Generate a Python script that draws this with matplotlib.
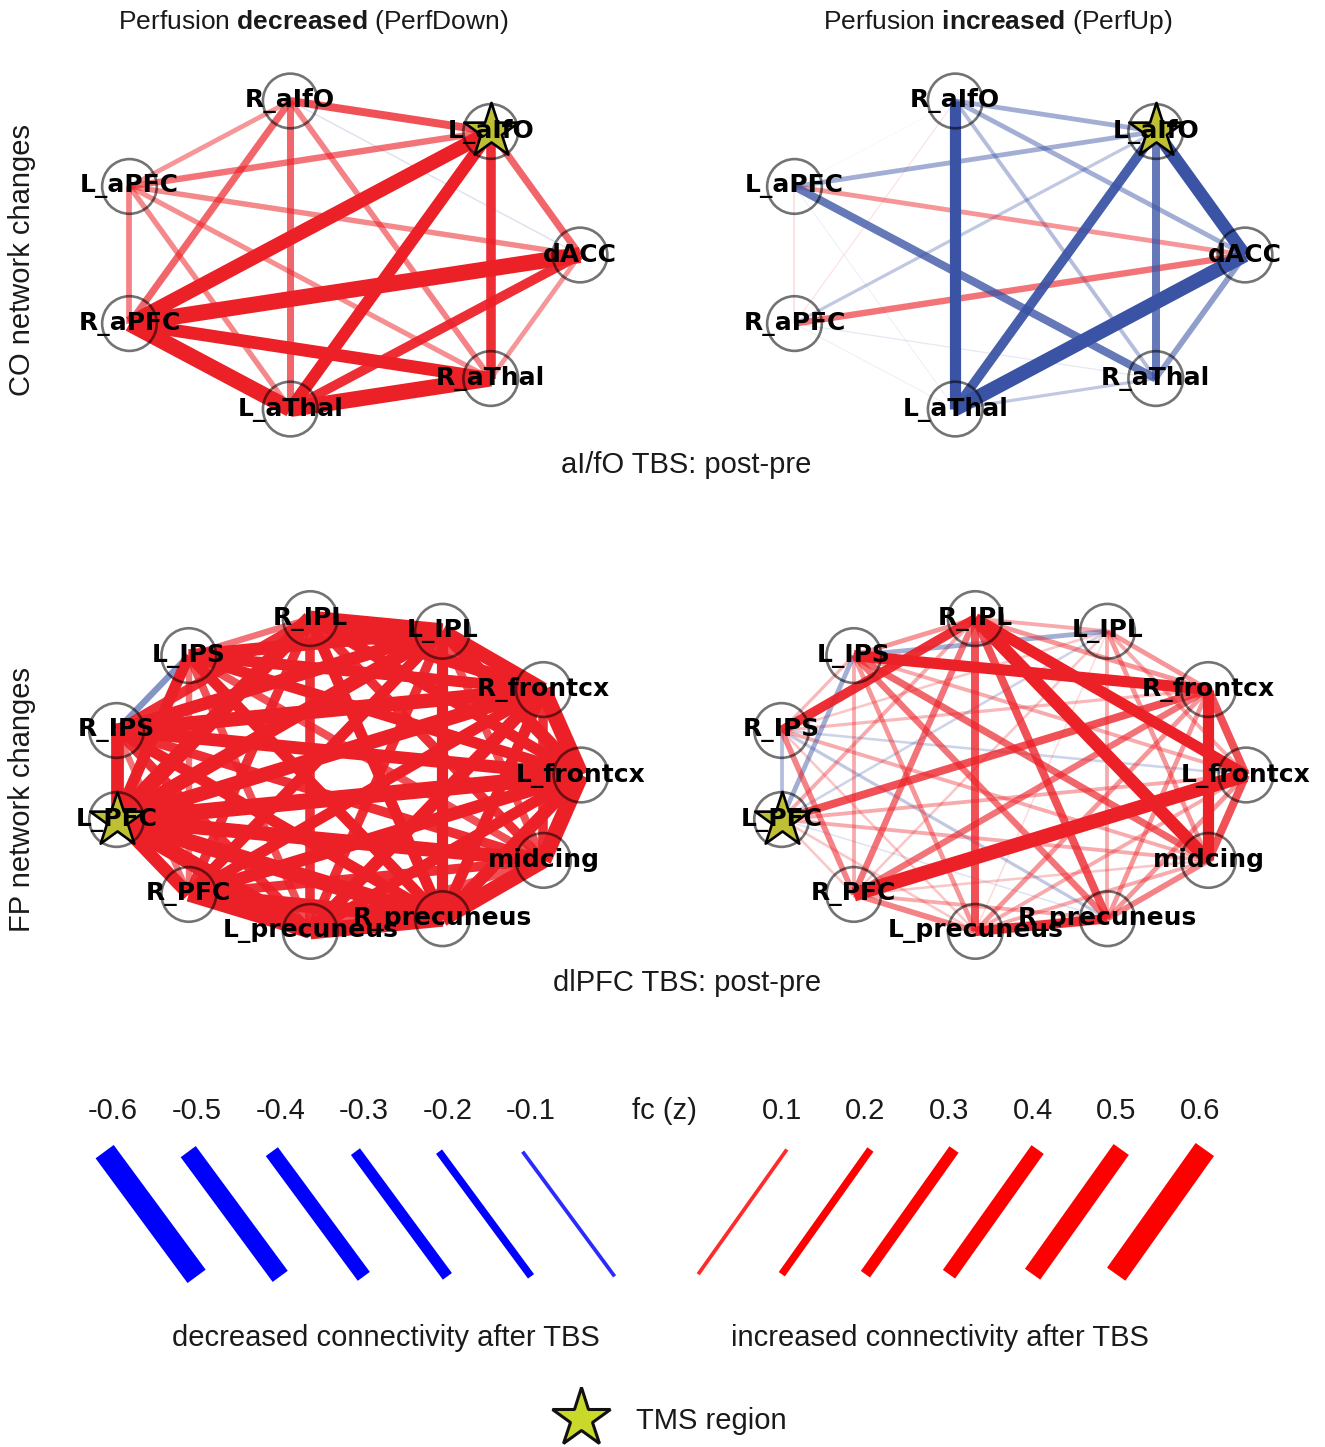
import numpy as np
import matplotlib
matplotlib.use("Agg")
import matplotlib.pyplot as plt
from matplotlib.collections import LineCollection
from matplotlib.colors import to_rgba

plt.rcParams['font.family'] = ['Liberation Sans', 'DejaVu Sans']
plt.rcParams['mathtext.fontset'] = 'custom'
plt.rcParams['mathtext.rm'] = 'Liberation Sans'
plt.rcParams['mathtext.bf'] = 'Liberation Sans:bold'

# ---- data ----
co_nodes = ['dACC', 'L_aIfO', 'R_aIfO', 'L_aPFC', 'R_aPFC', 'L_aThal', 'R_aThal']
co_pairs = [('R_aIfO', 'L_aIfO'), ('R_aIfO', 'L_aPFC'), ('R_aIfO', 'R_aPFC'), ('R_aIfO', 'L_aThal'),
            ('R_aIfO', 'R_aThal'), ('R_aIfO', 'dACC'), ('L_aIfO', 'L_aPFC'), ('L_aIfO', 'R_aPFC'),
            ('L_aIfO', 'L_aThal'), ('L_aIfO', 'R_aThal'), ('L_aIfO', 'dACC'), ('L_aPFC', 'dACC'),
            ('L_aPFC', 'R_aPFC'), ('L_aPFC', 'L_aThal'), ('L_aPFC', 'R_aThal'), ('R_aPFC', 'dACC'),
            ('R_aPFC', 'R_aThal'), ('R_aPFC', 'L_aThal'), ('L_aThal', 'R_aThal'), ('L_aThal', 'dACC'),
            ('dACC', 'R_aThal')]
co_down_w = [0.25, 0.15, 0.22, 0.22, 0.18, -0.05, 0.20, 0.45, 0.38, 0.30, 0.22,
             0.17, 0.18, 0.17, 0.16, 0.50, 0.40, 0.50, 0.50, 0.30, 0.15]
co_up_w = [-0.15, 0.02, 0.04, -0.35, -0.12, -0.15, -0.15, -0.10, -0.30, -0.25, -0.40,
           0.15, 0.05, -0.03, -0.25, 0.20, -0.04, -0.03, -0.10, -0.45, -0.18]
co_tms = 'L_aIfO'

fp_nodes = ['L_frontcx', 'R_frontcx', 'L_IPL', 'R_IPL', 'L_IPS', 'R_IPS', 'L_PFC', 'R_PFC',
            'L_precuneus', 'R_precuneus', 'midcing']
# upper triangle: row i holds weights from node i to nodes i+1 .. n-1
fp_down_rows = [
    [0.50, 0.40, 0.35, 0.35, 0.40, 0.50, 0.40, 0.35, 0.40, 0.50],
    [0.45, 0.40, 0.35, 0.45, 0.45, 0.35, 0.40, 0.35, 0.30],
    [0.50, 0.40, 0.40, 0.45, 0.35, 0.30, 0.35, 0.25],
    [0.20, 0.30, 0.50, 0.30, 0.30, 0.35, 0.30],
    [-0.20, 0.35, 0.20, 0.25, 0.35, 0.25],
    [0.40, 0.20, 0.30, 0.35, 0.30],
    [0.40, 0.50, 0.50, 0.45],
    [0.45, 0.45, 0.30],
    [0.50, 0.25],
    [0.50],
]
fp_up_rows = [
    [0.25, 0.12, 0.35, 0.12, -0.08, 0.12, 0.45, 0.12, 0.15, 0.25],
    [0.15, 0.15, 0.35, 0.10, 0.25, 0.20, 0.15, 0.15, 0.35],
    [0.12, -0.15, 0.08, -0.08, 0.08, 0.05, 0.12, 0.15],
    [0.15, 0.30, 0.12, 0.20, 0.25, 0.25, 0.40],
    [0.10, -0.15, 0.12, 0.15, 0.20, 0.22],
    [-0.12, 0.18, 0.08, -0.10, 0.12],
    [0.08, 0.08, -0.05, 0.12],
    [0.18, 0.12, 0.08],
    [0.30, 0.12],
    [0.18],
]
fp_tms = 'L_PFC'

leg_vals = [-0.6, -0.5, -0.4, -0.3, -0.2, -0.1, 0.1, 0.2, 0.3, 0.4, 0.5, 0.6]

# ---- style ----
W, H = 1325, 1447
RX, RY = 237, 158
LW = 23.0
LEG_LW = 27.0
RED = '#EC2027'
BLUE = '#3A53A4'

fig = plt.figure(figsize=(W / 100, H / 100), dpi=100)


def rows_to_pairs(nodes, rows):
    pairs, ws = [], []
    for i, row in enumerate(rows):
        for k, w in enumerate(row):
            pairs.append((nodes[i], nodes[i + 1 + k]))
            ws.append(w)
    return pairs, ws


def draw_net(cx, cy, nodes, pairs, weights, tms):
    w = 2 * 1.3 * RX
    h = 2 * 1.3 * RY
    ax = fig.add_axes([(cx - w / 2) / W, 1 - (cy + h / 2) / H, w / W, h / H])
    ax.set_xlim(-1.3, 1.3)
    ax.set_ylim(-1.3, 1.3)
    ax.axis('off')
    n = len(nodes)
    ang = 2 * np.pi * np.arange(n) / n
    pos = {nm: (np.cos(a), np.sin(a)) for nm, a in zip(nodes, ang)}

    order = np.argsort(np.abs(weights))
    segs, cols, lws = [], [], []
    for i in order:
        a, b = pairs[i]
        wv = weights[i]
        segs.append([pos[a], pos[b]])
        alpha = float(np.clip(abs(wv) / 0.32, 0.06, 1.0))
        cols.append(to_rgba(RED if wv > 0 else BLUE, alpha))
        lws.append(LW * abs(wv))
    lc = LineCollection(segs, colors=cols, linewidths=lws, capstyle='butt', zorder=1)
    ax.add_collection(lc)

    xs = [pos[nm][0] for nm in nodes]
    ys = [pos[nm][1] for nm in nodes]
    ax.scatter(xs, ys, s=1550, facecolors='none', edgecolors=(0, 0, 0, 0.55),
               linewidths=1.9, zorder=3, clip_on=False)
    ax.scatter([pos[tms][0]], [pos[tms][1]], marker='*', s=1700, c='#BFBF33',
               edgecolors='black', linewidths=1.9, zorder=4, clip_on=False)
    for nm in nodes:
        ax.text(pos[nm][0], pos[nm][1], nm, ha='center', va='center', fontsize=18,
                fontweight='bold', family='DejaVu Sans', zorder=5)
    return ax


fp_down_pairs, fp_down_w = rows_to_pairs(fp_nodes, fp_down_rows)
fp_up_pairs, fp_up_w = rows_to_pairs(fp_nodes, fp_up_rows)

draw_net(343, 255, co_nodes, co_pairs, co_down_w, co_tms)
draw_net(1008, 255, co_nodes, co_pairs, co_up_w, co_tms)
draw_net(344, 775, fp_nodes, fp_down_pairs, fp_down_w, fp_tms)
draw_net(1009, 775, fp_nodes, fp_up_pairs, fp_up_w, fp_tms)


def ftext(x, y, s, **kw):
    fig.text(x / W, 1 - y / H, s, **kw)


ftext(313, 22, r"Perfusion $\mathbf{decreased}$ (PerfDown)", ha='center', va='center', fontsize=19, color='#1a1a1a')
ftext(998, 22, r"Perfusion $\mathbf{increased}$ (PerfUp)", ha='center', va='center', fontsize=19, color='#1a1a1a')
ftext(22, 260, "CO network changes", ha='center', va='center', rotation=90, fontsize=21, color='#1a1a1a')
ftext(22, 800, "FP network changes", ha='center', va='center', rotation=90, fontsize=21, color='#1a1a1a')
ftext(686, 465, "aI/fO TBS: post-pre", ha='center', va='center', fontsize=21, color='#1a1a1a')
ftext(687, 983, "dlPFC TBS: post-pre", ha='center', va='center', fontsize=21, color='#1a1a1a')

# ---- legend ----
lax = fig.add_axes([0, (H - 1300) / H, 1, 215 / H])
lax.set_xlim(-113 / 83.6, (W - 113) / 83.6)
lax.set_ylim(0, 1)
lax.axis('off')
for v in leg_vals:
    slot = 6 + 10 * v if v < 0 else 7 + 10 * v
    alpha = min(1.0, abs(v) / 0.12)
    if v < 0:
        lax.plot([slot - 0.1, slot + 1.0], [0.69, 0.11], color='blue', alpha=alpha,
                 lw=LEG_LW * abs(v), solid_capstyle='butt')
    else:
        lax.plot([slot - 1.0, slot + 0.06], [0.12, 0.70], color='red', alpha=alpha,
                 lw=LEG_LW * abs(v), solid_capstyle='butt')
    lax.text(slot, 0.879, f"{v:g}", ha='center', va='center', fontsize=21, color='#1a1a1a')
lax.text(6.6, 0.879, "fc (z)", ha='center', va='center', fontsize=21, color='#1a1a1a')

ftext(386, 1338, "decreased connectivity after TBS", ha='center', va='center', fontsize=21, color='#1a1a1a')
ftext(940, 1338, "increased connectivity after TBS", ha='center', va='center', fontsize=21, color='#1a1a1a')

fig.add_artist(plt.Line2D([581 / W], [1 - 1418 / H], marker='*', markersize=44,
                          markerfacecolor='#C8D92B', markeredgecolor='#111111',
                          markeredgewidth=2.2, transform=fig.transFigure))
ftext(636, 1421, "TMS region", ha='left', va='center', fontsize=21, color='#1a1a1a')

fig.savefig('out.png', dpi=100)
